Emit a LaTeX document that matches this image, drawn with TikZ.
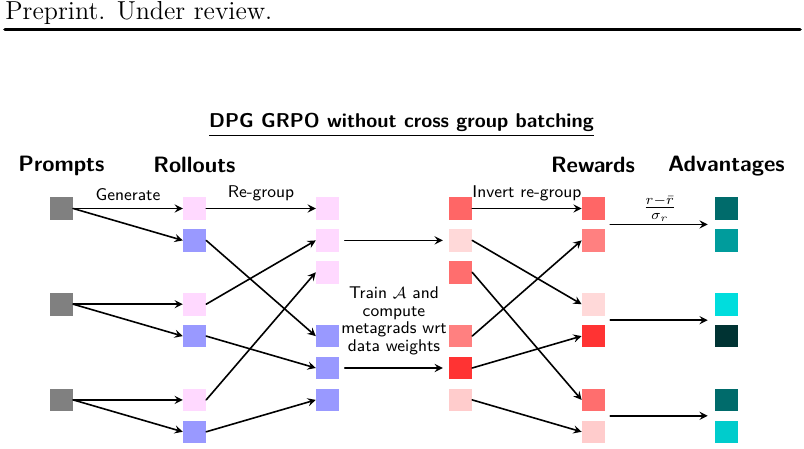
\documentclass[tikz,border=0pt]{standalone}
\usepackage{fontspec}
\usetikzlibrary{calc}

\definecolor{promptgray}{HTML}{808080}
\definecolor{rollpink}{HTML}{FFD9FF}
\definecolor{rollblue}{HTML}{9999FF}
\definecolor{redmid}{HTML}{FF6666}
\definecolor{redmidb}{HTML}{FF6E6E}
\definecolor{redpale}{HTML}{FFD9D9}
\definecolor{redsalmon}{HTML}{FF8080}
\definecolor{redbright}{HTML}{FF3333}
\definecolor{redlight}{HTML}{FFCCCC}
\definecolor{tealdark}{HTML}{006B6B}
\definecolor{tealmid}{HTML}{009C9C}
\definecolor{cyanbright}{HTML}{00DDDD}
\definecolor{tealdeep}{HTML}{003333}
\definecolor{cyanmid}{HTML}{00CCCC}

\begin{document}
\begin{tikzpicture}[x=0.5pt,y=-0.5pt,font=\sffamily\fontsize{8.5}{8.7}\selectfont,line join=round,line cap=round,>=stealth,
	sq/.style={minimum size=11.3pt,inner sep=0pt},
	hdr/.style={font=\sffamily\bfseries\fontsize{11.1}{12}\selectfont},
	arr/.style={->,thick}]
	\useasboundingbox (0,0) rectangle (804,449);
	
	\node[anchor=base west,inner sep=0pt,font=\rmfamily\fontsize{13}{14}\selectfont] (head) at (5,19.5) {Preprint. Under review.};
	\draw[line width=1.8pt] (5,29.5) -- (800,29.5);
	
	\node[hdr,anchor=base,font=\sffamily\bfseries\fontsize{10}{12}\selectfont] (title) at (401.5,128) {\underline{DPG GRPO without cross group batching}};
	\node[hdr,anchor=base] (hprompts) at (61.5,172) {Prompts};
	\node[hdr,anchor=base] (hrollouts) at (194.5,172.5) {Rollouts};
	\node[hdr,anchor=base] (hrewards) at (593,172.5) {Rewards};
	\node[hdr,anchor=base] (hadv) at (726.4,172) {Advantages};
	
	\foreach \n/\k in {1/1,2/4,3/7}
	\node[sq,fill=promptgray] (p\n) at (61.5,{208.5+31.9*(\k-1)}) {};
	\foreach \n/\c in {1/rollpink,2/rollblue,4/rollpink,5/rollblue,7/rollpink,8/rollblue}
	\node[sq,fill=\c] (r\n) at (194.5,{208.5+31.9*(\n-1)}) {};
	\foreach \n/\c in {1/rollpink,2/rollpink,3/rollpink,5/rollblue,6/rollblue,7/rollblue}
	\node[sq,fill=\c] (g\n) at (327.5,{208.5+31.9*(\n-1)}) {};
	\foreach \n/\c in {1/redmid,2/redpale,3/redmidb,5/redsalmon,6/redbright,7/redlight}
	\node[sq,fill=\c] (q\n) at (460.5,{208.5+31.9*(\n-1)}) {};
	\foreach \n/\c in {1/redmid,2/redsalmon,4/redpale,5/redbright,7/redmidb,8/redlight}
	\node[sq,fill=\c] (w\n) at (593.3,{208.5+31.9*(\n-1)}) {};
	\foreach \n/\c in {1/tealdark,2/tealmid,4/cyanbright,5/tealdeep,7/tealdark,8/cyanmid}
	\node[sq,fill=\c] (a\n) at (726.4,{208.5+31.9*(\n-1)}) {};
	
	\draw[arr] (p1.east) -- (r1.west) node[midway,above] (lgen) {Generate};
	\foreach \a/\b in {1/2,2/4,2/5,3/7,3/8}
	\draw[arr] (p\a.east) -- (r\b.west);
	
	\draw[arr] (r1.east) -- (g1.west) node[midway,above] (lregroup) {Re-group};
	\foreach \a/\b in {2/5,4/2,5/6,7/3,8/7}
	\draw[arr] (r\a.east) -- (g\b.west);
	
	\draw[arr,shorten <=2.8pt,shorten >=3pt] (g2.east) -- (q2.west);
	\draw[arr,shorten <=2.8pt,shorten >=3pt] (g6.east) -- (q6.west)
	node[midway,above=3pt,align=center] (ltrain) {Train $\mathcal{A}$ and\\compute\\metagrads wrt\\data weights};
	
	\draw[arr] (q1.east) -- (w1.west) node[midway,above] (linvert) {Invert re-group};
	\foreach \a/\b in {2/4,3/7,5/2,6/5,7/8}
	\draw[arr] (q\a.east) -- (w\b.west);
	
	\draw[arr,shorten <=2.6pt,shorten >=3.5pt] ($(w1.east)!.5!(w2.east)$) -- ($(a1.west)!.5!(a2.west)$)
	node[midway,above,inner sep=1.2pt,font=\fontsize{10}{12}\selectfont] (lnorm) {$\frac{r-\bar{r}}{\sigma_r}$};
	\draw[arr,shorten <=2.6pt,shorten >=3.5pt] ($(w4.east)!.5!(w5.east)$) -- ($(a4.west)!.5!(a5.west)$);
	\draw[arr,shorten <=2.6pt,shorten >=3.5pt] ($(w7.east)!.5!(w8.east)$) -- ($(a7.west)!.5!(a8.west)$);
\end{tikzpicture}
\end{document}
